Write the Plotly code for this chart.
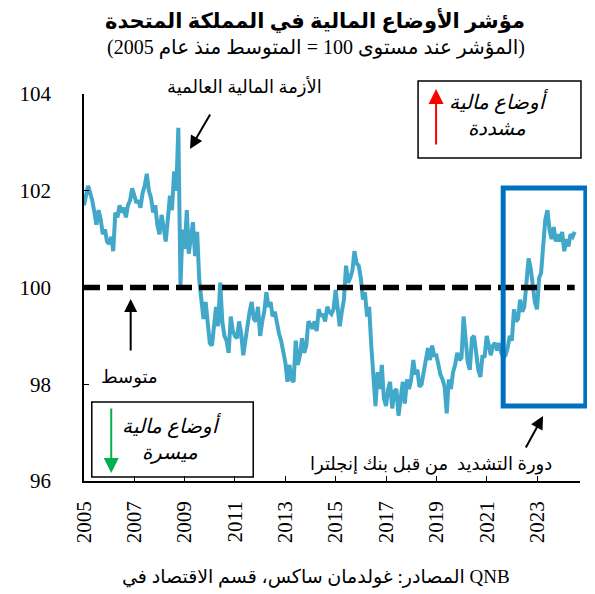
import pandas as pd
import plotly.graph_objects as go

# ---------------- data ----------------
START_MONTH = "2005-01-01"
AVERAGE = 100
fci_values = [
    # 2005
    101.70, 101.95, 102.10, 101.95, 101.80, 101.55, 101.30, 101.60, 101.40, 101.10, 101.20, 100.95,
    # 2006
    100.90, 101.05, 100.75, 101.55, 101.45, 101.70, 101.55, 101.65, 101.45, 101.70, 101.80, 102.05,
    # 2007
    101.90, 101.75, 101.80, 101.65, 101.95, 102.10, 102.35, 102.00, 101.85, 101.55, 101.70, 101.30,
    # 2008
    101.10, 101.50, 101.25, 100.95, 101.40, 101.90, 101.60, 102.40, 102.00, 103.30, 100.05, 101.20,
    # 2009
    100.80, 101.60, 100.70, 101.05, 101.35, 100.65, 101.15, 100.15, 99.80, 99.35, 99.70, 99.20,
    # 2010
    98.85, 98.80, 99.30, 99.60, 99.20, 100.10, 99.30, 99.00, 98.90, 98.65, 99.40, 99.10,
    # 2011
    99.00, 98.95, 99.30, 99.05, 98.60, 99.00, 99.20, 99.50, 99.70, 99.35, 99.30, 99.60,
    # 2012
    99.00, 99.30, 99.50, 99.90, 99.60, 99.70, 99.40, 99.50, 99.20, 99.05, 98.90, 98.70,
    # 2013
    98.45, 98.05, 98.40, 98.10, 98.05, 98.90, 98.40, 98.60, 98.95, 98.65, 98.80, 99.30,
    # 2014
    99.20, 99.15, 99.30, 99.10, 99.55, 99.40, 99.45, 99.30, 99.60, 99.50, 99.45, 99.55,
    # 2015
    99.95, 99.50, 99.20, 99.50, 99.75, 100.45, 100.10, 100.20, 100.35, 100.75, 100.50, 100.45,
    # 2016
    100.20, 99.75, 99.90, 99.40, 99.60, 98.80, 98.15, 97.55, 98.25, 97.90, 98.40, 97.70,
    # 2017
    97.55, 97.90, 98.05, 97.50, 97.85, 97.90, 97.35, 97.80, 98.05, 97.60, 98.10, 97.90,
    # 2018
    98.10, 98.50, 98.20, 98.30, 97.95, 98.00, 98.25, 98.50, 98.75, 98.50, 98.80, 98.60,
    # 2019
    98.60, 98.40, 98.20, 98.10, 97.95, 97.40, 98.10, 97.90, 98.25, 98.40, 98.65, 98.50,
    # 2020
    98.55, 99.40, 98.90, 98.45, 98.30, 98.95, 99.00, 98.60, 98.30, 98.15, 98.60, 98.55,
    # 2021
    99.00, 98.80, 98.60, 98.80, 98.85, 98.70, 98.85, 98.65, 98.55, 98.60, 98.75, 99.00,
    # 2022
    98.90, 99.55, 99.30, 99.35, 99.75, 99.50, 99.60, 100.10, 100.60, 100.40, 100.10, 99.70,
    # 2023
    99.55, 100.20, 100.30, 100.90, 101.40, 101.60, 101.20, 101.00, 101.25, 100.95, 101.10, 100.95,
    # 2024
    101.15, 100.75, 101.00, 100.85, 101.10, 101.05, 101.15,
]
x_tick_years = ["2005", "2007", "2009", "2011", "2013", "2015", "2017", "2019", "2021", "2023"]
y_tick_values = [96, 98, 100, 102, 104]

title_text = "<b>مؤشر الأوضاع المالية في المملكة المتحدة</b>"
subtitle_text = "(المؤشر عند مستوى 100 = المتوسط منذ عام 2005)"
source_text = "المصادر: غولدمان ساكس، قسم الاقتصاد في QNB"
crisis_text = "الأزمة المالية العالمية"
average_text = "متوسط"
tight_text = "أوضاع مالية<br>مشددة"
easy_text = "أوضاع مالية<br>ميسرة"
boe_text = "دورة التشديد  من قبل بنك إنجلترا"

dates = pd.date_range(START_MONTH, periods=len(fci_values), freq="MS")

# ---------------- layout geometry (screen pixels; page has an 8px body offset) ----------------
OFF = 8
W, H = 595, 594
SCR_L, SCR_R, SCR_T, SCR_B = 70, 580, 94, 481   # plot-area edges as seen on screen
L, T = SCR_L - OFF, SCR_T - OFF
R = W - (SCR_R - OFF)
B = H - (SCR_B - OFF)
PW, PH = SCR_R - SCR_L, SCR_B - SCR_T


def px(x):
    return (x - SCR_L) / PW


def py(y):
    return (SCR_B - y) / PH


SERIF = "Times New Roman, Liberation Serif, DejaVu Sans, serif"

fig = go.Figure()
fig.add_trace(go.Scatter(
    x=dates, y=fci_values, mode="lines",
    line=dict(color="#41A8C9", width=4),
    showlegend=False, hoverinfo="skip",
))

shapes = [
    dict(type="line", xref="x", yref="y", x0=dates[0], x1=dates[-1], y0=AVERAGE, y1=AVERAGE,
         line=dict(color="black", width=5.5, dash="16px,7px"), layer="above"),
    dict(type="rect", xref="paper", yref="paper", x0=px(501), x1=px(586), y0=py(406), y1=py(188),
         line=dict(color="#0070C0", width=5), layer="above"),
    dict(type="rect", xref="paper", yref="paper", x0=px(413.5), x1=px(581), y0=py(158), y1=py(81),
         line=dict(color="black", width=1.5)),
    dict(type="rect", xref="paper", yref="paper", x0=px(78), x1=px(244), y0=py(477), y1=py(402),
         line=dict(color="black", width=1.5)),
]

ann = []


def text(x, y, t, size, style="normal"):
    ann.append(dict(xref="paper", yref="paper", x=px(x), y=py(y), text=t, showarrow=False,
                    xanchor="center", yanchor="middle", borderpad=0,
                    font=dict(family=SERIF, size=size, color="black", style=style)))


def arrow(tx, ty, ax, ay, color="black", width=2, size=1.3):
    ann.append(dict(xref="paper", yref="paper", x=px(tx), y=py(ty), text="", showarrow=True,
                    ax=ax, ay=ay, arrowhead=2, arrowsize=size, arrowwidth=width,
                    arrowcolor=color, standoff=0, startstandoff=0))


text(308, 20, title_text, 21)
text(309, 48, subtitle_text, 20)
text(309, 577, source_text, 19)
text(235, 87, crisis_text, 18)
arrow(179, 149, 21, -36)
text(117, 377, average_text, 18)
arrow(118, 299, 0, 53)
text(497, 114, tight_text, 20, "italic")
arrow(432, 89, 0, 57, color="#FF0000", width=2, size=1.5)
text(160, 438, easy_text, 20, "italic")
arrow(98, 473, 0, -66, color="#00B050", width=2, size=1.5)
text(427, 464, boe_text, 18)
arrow(542, 416, -18, 33)

fig.update_layout(
    width=W, height=H,
    margin=dict(l=L, r=R, t=T, b=B),
    paper_bgcolor="white", plot_bgcolor="white",
    shapes=shapes, annotations=ann,
    xaxis=dict(
        type="date", range=["2005-01-01", "2024-09-16"],
        tickvals=[f"{y}-01-01" for y in x_tick_years], ticktext=x_tick_years,
        tickangle=-90, ticks="inside", ticklen=5, tickwidth=1.2, tickcolor="black",
        showline=True, linecolor="black", linewidth=1.5, showgrid=False, zeroline=False,
        tickfont=dict(family=SERIF, size=21, color="black"), ticklabelstandoff=10,
    ),
    yaxis=dict(
        range=[96, 104], tickvals=y_tick_values, ticktext=[str(v) for v in y_tick_values],
        ticks="inside", ticklen=5, tickwidth=1.2, tickcolor="black",
        showline=True, linecolor="black", linewidth=1.5, showgrid=False, zeroline=False,
        tickfont=dict(family=SERIF, size=21, color="black"), ticklabelstandoff=27,
    ),
)

fig.write_html("out.html")
